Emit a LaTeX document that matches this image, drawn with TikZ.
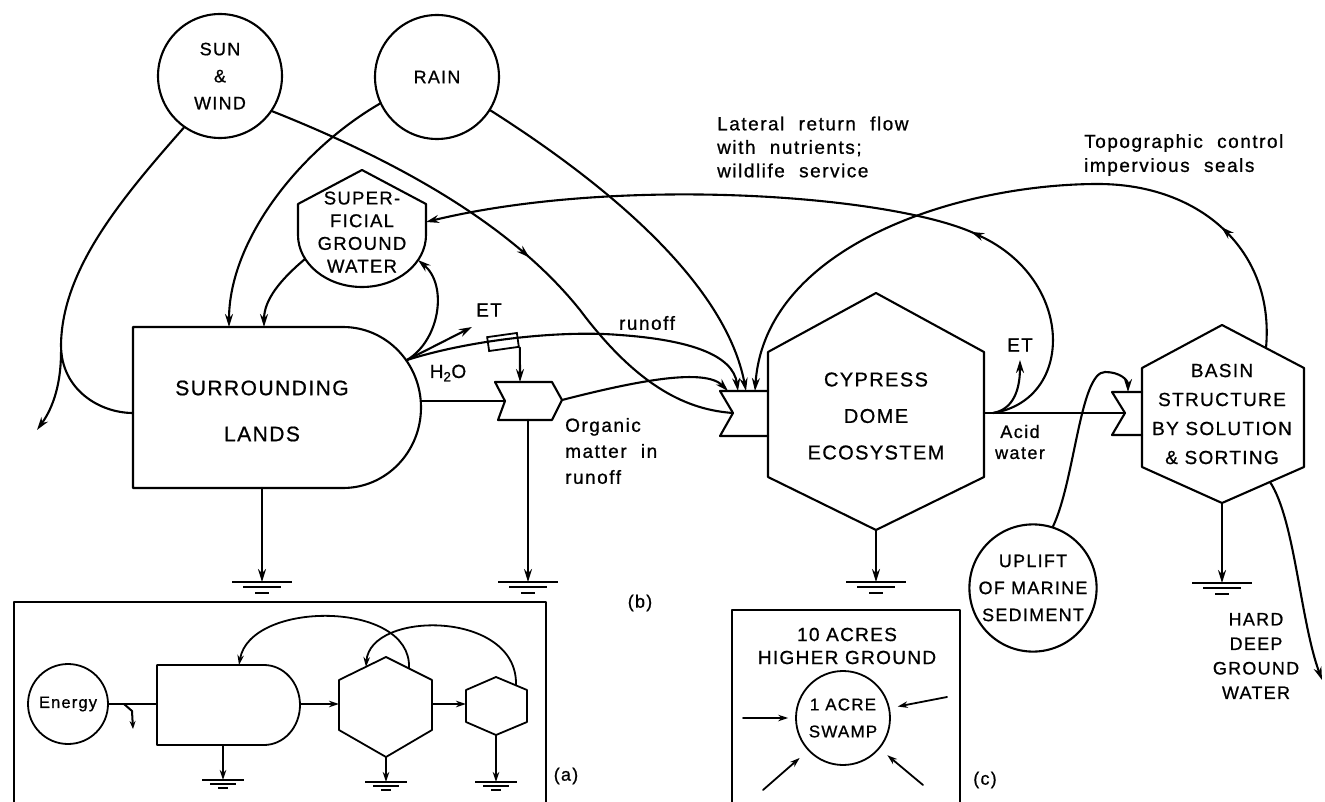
\documentclass[tikz,border=0pt]{standalone}
\usepackage{fontspec}
\setmainfont{Liberation Sans}[LetterSpace=7,FakeBold=0.8]
\newfontfamily\lbf{Liberation Sans}[LetterSpace=8,WordSpace=2.1,FakeBold=0.8]
\usetikzlibrary{arrows.meta,decorations.markings}
\newcommand{\fsz}[2]{\fontsize{#1}{#2}\selectfont}
\begin{document}
\begin{tikzpicture}[x=1pt,y=-1pt,
  ln/.style={line width=2.1pt,line join=round,line cap=round},
  arr/.style={ln,-{Stealth[length=13pt,width=8pt]}},
  sarr/.style={line width=1.8pt,line cap=round,-{Stealth[length=10pt,width=6.5pt]}},
  marr/.style={postaction={decorate},decoration={markings,mark=at position #1 with {\arrow{Stealth[length=13pt,width=8pt]}}}},
  shp/.style={ln},
  sshp/.style={line width=1.8pt,line join=round},
  circ/.style={draw,circle,line width=2.1pt,inner sep=0pt,align=center},
  captxt/.style={align=center,inner sep=0pt},
  labtxt/.style={font=\lbf\fsz{19}{24},align=left,inner sep=0pt},
  gnd/.pic={\draw[line width=2.1pt] (-30,0) -- (30,0);
            \draw[line width=1.6pt] (-19,5) -- (19,5);
            \draw[line width=1.6pt] (-7,11) -- (7,11);},
  sgnd/.pic={\draw[line width=1.8pt] (-21,0) -- (21,0);
            \draw[line width=1.4pt] (-13,4) -- (13,4);
            \draw[line width=1.4pt] (-5,8) -- (5,8);}
]
\fill[white] (0,0) rectangle (1325,802);
\useasboundingbox (0,0) rectangle (1325,802);

% ---------- sources ----------
\node[circ,minimum size=124pt,font=\fsz{18}{27}] (sun) at (220,76) {SUN\\\&\\WIND};
\node[circ,minimum size=124pt,font=\fsz{18}{22}] (rain) at (437,77) {RAIN};
\node[circ,minimum size=122pt,font=\fsz{18}{27}] (uplift) at (1033,588) {UPLIFT\\OF MARINE\\SEDIMENT};

% ---------- superficial ground water ----------
\draw[shp] (362,170) -- (426,204) -- (426,235) .. controls (426,263.7) and (397.3,287) .. (362,287)
  .. controls (326.7,287) and (298,263.7) .. (298,235) -- (298,204) -- cycle;
\node[captxt,font=\fsz{18.5}{22.7}] (sgw) at (362,232) {SUPER-\\FICIAL\\GROUND\\WATER};
\coordinate (sgwSE) at (418,260);
\coordinate (sgwSW) at (305,259);
\coordinate (sgwE) at (426,222);

% ---------- surrounding lands ----------
\draw[shp] (133,327) -- (343,327) .. controls (386.1,327) and (421,363) .. (421,407.5)
  .. controls (421,452) and (386.1,488) .. (343,488) -- (133,488) -- cycle;
\node[captxt,font=\fsz{21}{46}] (lands) at (262,411) {SURROUNDING\\LANDS};
\coordinate (landsW) at (133,413);
\coordinate (landsN1) at (229,327);
\coordinate (landsN2) at (264,327);
\coordinate (landsJ) at (407,360);
\coordinate (landsE) at (421,401);
\coordinate (landsS) at (262,488);

% ---------- gate 1 (organic matter) ----------
\draw[shp] (495,382) -- (552,382) -- (562,400) -- (552,420) -- (498,420) -- (505,401) -- cycle;
\coordinate (g1W) at (505,401);
\coordinate (g1N) at (520,382);
\coordinate (g1E) at (562,400);
\coordinate (g1S) at (528,420);
\node[draw,line width=1.8pt,minimum width=30pt,minimum height=14pt,inner sep=0pt,rotate=8] (valve) at (503,342) {};

% ---------- cypress dome ----------
\draw[shp] (876,293) -- (984,352) -- (984,477) -- (876,530) -- (768,477) -- (768,352) -- cycle;
\node[captxt,font=\fsz{20}{36.5}] (cyp) at (876,416) {CYPRESS\\DOME\\ECOSYSTEM};
\draw[shp] (768,391) -- (720,391) -- (733,413) -- (720,436) -- (768,436);
\coordinate (cgW) at (733,413);
\coordinate (cg1) at (728,391);
\coordinate (cg2) at (738,391);
\coordinate (cg3) at (746,391);
\coordinate (cg4) at (755,391);
\coordinate (cypE) at (984,413);
\coordinate (cypS) at (876,530);
\coordinate (latS) at (993,413);

% ---------- basin ----------
\draw[shp] (1222,325) -- (1304,368) -- (1304,467) -- (1222,503) -- (1142,467) -- (1142,368) -- cycle;
\node[captxt,font=\fsz{19}{29}] (basin) at (1222,414) {BASIN\\STRUCTURE\\BY SOLUTION\\\& SORTING};
\draw[shp] (1142,392) -- (1112,392) -- (1125,413) -- (1112,435) -- (1142,435);
\coordinate (bgW) at (1125,413);
\coordinate (bgN) at (1128,392);
\coordinate (basinNE) at (1266,348);
\coordinate (basinS) at (1222,503);
\coordinate (basinSE) at (1270,482);

% ---------- grounds ----------
\coordinate (gr1) at (262,582);
\coordinate (gr2) at (528,582);
\coordinate (gr3) at (876,582);
\coordinate (gr4) at (1222,583);
\pic at (gr1) {gnd};
\pic at (gr2) {gnd};
\pic at (gr3) {gnd};
\pic at (gr4) {gnd};

% ---------- free ends ----------
\coordinate (sunsplit) at (61,352);
\coordinate (heatout) at (37,430);
\coordinate (et1) at (472,327);
\coordinate (et2) at (1020,360);
\coordinate (hdw) at (1322,680);

% ---------- connectors ----------
\draw[ln] (sun.235) .. controls (120,200) and (62,270) .. (61,345) .. controls (61,390) and (100,413) .. (landsW);
\draw[arr] (sunsplit) .. controls (61,390) and (50,412) .. (heatout);
\draw[arr] (rain.205) .. controls (300,150) and (229,240) .. (landsN1);
\draw[arr] (sgwSW) .. controls (280,280) and (264,300) .. (landsN2);
\draw[arr] (landsJ) .. controls (440,340) and (448,285) .. (sgwSE);
\draw[arr] (landsJ) -- (et1);
\draw[arr] (landsJ) .. controls (470,340) and (560,330) .. (620,335) .. controls (690,340) and (733,355) .. (cg2);
\draw[arr] (valve.south east) .. controls (520,360) .. (g1N);
\draw[ln] (landsE) -- (g1W);
\draw[arr] (g1S) -- (gr2);
\draw[arr] (landsS) -- (gr1);
\draw[arr] (g1E) .. controls (640,380) and (705,368) .. (cg1);
\draw[ln,marr=0.53] (sun.-34) .. controls (420,170) and (520,235) .. (580,310) .. controls (640,390) and (690,410) .. (cgW);
\draw[arr] (rain.-32) .. controls (600,180) and (725,280) .. (cg3);
\draw[arr,marr=0.19] (basinNE) .. controls (1275,250) and (1200,184) .. (1098,184) .. controls (960,184) and (765,245) .. (cg4);
\draw[arr,marr=0.31] (latS) .. controls (1075,400) and (1075,280) .. (980,236) .. controls (900,195) and (620,175) .. (sgwE);
\draw[arr] (latS) .. controls (1010,410) and (1020,395) .. (et2);
\draw[ln] (cypE) -- (bgW);
\draw[arr] (cypS) -- (gr3);
\draw[arr] (uplift.72) .. controls (1075,480) and (1080,372) .. (1105,372) .. controls (1120,372) and (1128,380) .. (bgN);
\draw[arr] (basinS) -- (gr4);
\draw[arr] (basinSE) .. controls (1295,520) and (1300,620) .. (hdw);

% ---------- labels ----------
\node[labtxt] (lrun) at (647,323) {runoff};
\node[captxt,font=\fsz{19}{20}] (let1) at (489,310) {ET};
\node[captxt,font=\fsz{19}{20}] (lh2o) at (448,373) {H\textsubscript{2}O};
\node[labtxt,anchor=west,font=\lbf\fsz{19}{26}] (lorg) at (565,451) {Organic\\matter in\\runoff};
\node[labtxt,anchor=west,font=\lbf\fsz{19}{23.5}] (llat) at (717,147) {Lateral return flow\\with nutrients;\\wildlife service};
\node[labtxt,anchor=west] (ltopo) at (1084,155) {Topographic control\\impervious seals};
\node[captxt,font=\fsz{19}{20}] (let2) at (1020,345) {ET};
\node[labtxt,align=center,font=\lbf\fsz{18}{21}] (lacid) at (1020,442) {Acid\\water};
\node[captxt,font=\fsz{18}{24.5}] (lhard) at (1256,656) {HARD\\DEEP\\GROUND\\WATER};
\node[captxt,font=\fsz{18}{20}] (lb) at (640,603) {(b)};

% ---------- inset (a) ----------
\draw[ln] (14,802) -- (14,602) -- (546,602) -- (546,802);
\node[circ,line width=1.8pt,minimum size=80pt,font=\fsz{16.5}{18}] (energy) at (68,704) {Energy};
\draw[sshp] (157,665) -- (264,665) .. controls (283.9,665) and (300,682.9) .. (300,705)
  .. controls (300,727.1) and (283.9,745) .. (264,745) -- (157,745) -- cycle;
\draw[sshp] (386,657) -- (432,680) -- (432,730) -- (386,757) -- (339,730) -- (339,680) -- cycle;
\draw[sshp] (496,677) -- (527,690) -- (527,722) -- (496,735) -- (466,722) -- (466,690) -- cycle;
\coordinate (pW) at (157,704);
\coordinate (pE) at (300,704);
\coordinate (pN) at (239,665);
\coordinate (pS) at (223,745);
\coordinate (h1W) at (339,704);
\coordinate (h1E) at (432,704);
\coordinate (h1S) at (386,757);
\coordinate (h1NE) at (409,668);
\coordinate (h1NW) at (366,667);
\coordinate (h2W) at (466,704);
\coordinate (h2S) at (496,735);
\coordinate (h2NE) at (516,685);
\coordinate (hk0) at (124,704);
\coordinate (hk1) at (133,729);
\coordinate (sg1) at (223,780);
\coordinate (sg2) at (386,782);
\coordinate (sg3) at (496,782);
\pic at (sg1) {sgnd};
\pic at (sg2) {sgnd};
\pic at (sg3) {sgnd};
\draw[sshp] (energy.east) -- (pW);
\draw[line width=2pt,-{Stealth[length=8pt,width=6pt]}] (hk0) -- (132,711) -- (hk1);
\draw[sarr] (pE) -- (h1W);
\draw[sarr] (h1E) -- (h2W);
\draw[sarr] (h1NE) .. controls (412,600) and (250,600) .. (pN);
\draw[sarr] (h2NE) .. controls (518,610) and (370,610) .. (h1NW);
\draw[sarr] (pS) -- (sg1);
\draw[sarr] (h1S) -- (sg2);
\draw[sarr] (h2S) -- (sg3);
\node[captxt,font=\fsz{18}{20}] (la) at (566,776) {(a)};

% ---------- inset (c) ----------
\draw[ln] (732,802) -- (732,610) -- (960,610) -- (960,802);
\node[captxt,font=\fsz{19}{23}] (acres) at (847,646) {10 ACRES\\HIGHER GROUND};
\node[circ,line width=1.8pt,minimum size=94pt,font=\fsz{17}{27}] (swamp) at (843,718) {1 ACRE\\SWAMP};
\coordinate (c1) at (743,718);
\coordinate (c2) at (947,697);
\coordinate (c3) at (763,790);
\coordinate (c4) at (923,785);
\draw[sarr,shorten >=7pt] (c1) -- (swamp.180);
\draw[sarr,shorten >=8pt] (c2) -- (swamp.12);
\draw[sarr,shorten >=11pt] (c3) -- (swamp.223);
\draw[sarr,shorten >=10pt] (c4) -- (swamp.-40);
\node[captxt,font=\fsz{18}{20}] (lc) at (985,780) {(c)};
\end{tikzpicture}
\end{document}
